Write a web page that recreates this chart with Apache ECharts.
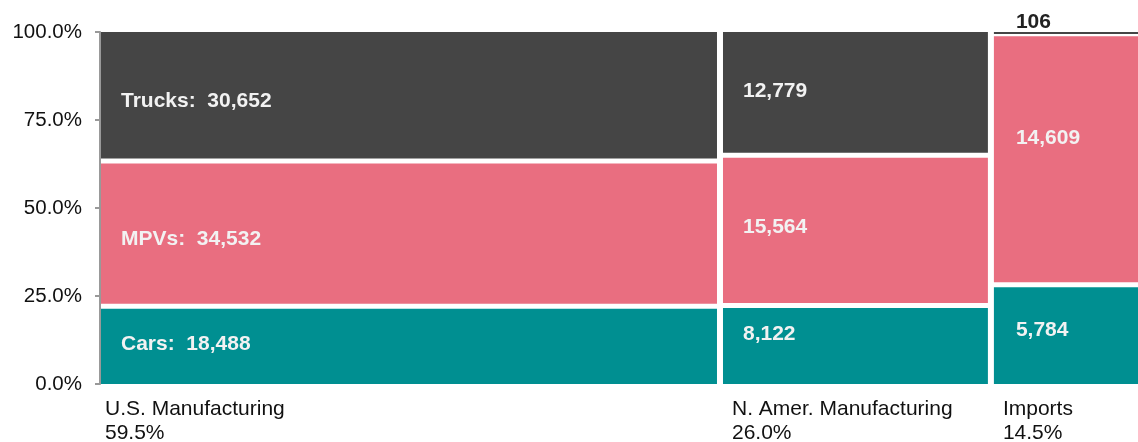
<!DOCTYPE html>
<html><head><meta charset="utf-8">
<script src="https://cdn.jsdelivr.net/npm/echarts@6/dist/echarts.min.js"></script>
<style>html,body{margin:0;padding:0;background:#fff}#c{width:1138px;height:442px}</style>
</head><body><div id="c"></div>
<script>
const columns = ['U.S. Manufacturing', 'N. Amer. Manufacturing', 'Imports'];
const shares = [59.5, 26.0, 14.5];
const segments = ['Cars', 'MPVs', 'Trucks'];
const cars = [18488, 8122, 5784];
const mpvs = [34532, 15564, 14609];
const trucks = [30652, 12779, 106];
const yTicks = ['0.0%', '25.0%', '50.0%', '75.0%', '100.0%'];
const colors = ['#008F91', '#E96E80', '#454545'];

const series3 = [cars, mpvs, trucks];
const totals = columns.map((c, i) => cars[i] + mpvs[i] + trucks[i]);
const fmt = v => v.toLocaleString('en-US');
const FONT = 'Liberation Sans, Arial, sans-serif';

// rect data: [x0, x1, y0, y1, value, colIdx, segIdx]
const rects = [];
const colData = [];
let xc = 0;
columns.forEach((c, i) => {
  const w = shares[i];
  let yc = 0;
  series3.forEach((s, k) => {
    const h = s[i] / totals[i] * 100;
    rects.push([xc, xc + w, yc, yc + h, s[i], i, k]);
    yc += h;
  });
  colData.push([xc, xc + w, i, w]);
  xc += w;
});

// label nudges (px) per column, per segment [cars, mpvs, trucks]
const labelDx = [20, 20, 22];
const labelDy = [[-2.5, 6, 6], [-11.5, -3.5, -1], [-5, -21, 0]];
const catDx = [5, 12, 12];

const chart = echarts.init(document.getElementById('c'));
chart.setOption({
  animation: false,
  grid: {left: 100, width: 1042, top: 32, height: 352, outerBoundsMode: 'none', containLabel: false},
  xAxis: {type: 'value', min: 0, max: 100, show: false},
  yAxis: {
    type: 'value', min: 0, max: 100, interval: 25,
    axisLine: {show: true, lineStyle: {color: '#999', width: 2}},
    axisTick: {show: true, length: 5, lineStyle: {color: '#999', width: 2}},
    splitLine: {show: false},
    axisLabel: {formatter: v => yTicks[v / 25], color: '#111', fontSize: 20.5, fontFamily: FONT, margin: 18}
  },
  series: [{
    type: 'custom',
    data: rects,
    clip: false,
    renderItem: (params, api) => {
      const x0 = api.value(0), x1 = api.value(1), y0 = api.value(2), y1 = api.value(3);
      const val = api.value(4), ci = api.value(5), si = api.value(6);
      const p0 = api.coord([x0, y0]), p1 = api.coord([x1, y1]);
      const left = p0[0] + (ci === 0 ? 1 : 3);
      const right = p1[0] - 3;
      const small = (p0[1] - p1[1]) < 20;
      let bottom = p0[1] - (si === 0 ? 0 : 2.5);
      let top = p1[1] + (si === segments.length - 1 ? 0 : 2.5);
      if (small) { top = p1[1]; bottom = top + 2; }
      const children = [{
        type: 'rect',
        shape: {x: left, y: top, width: right - left, height: bottom - top},
        style: {fill: colors[si]}
      }];
      const txt = (ci === 0 ? segments[si] + ':  ' : '') + fmt(val);
      children.push({
        type: 'text',
        style: {
          text: txt,
          x: left + labelDx[ci],
          y: small ? top - 10 : (top + bottom) / 2 + labelDy[ci][si],
          verticalAlign: 'middle',
          fill: small ? '#222' : '#F2F2F2',
          font: 'bold 21px ' + FONT
        }
      });
      return {type: 'group', children};
    }
  }, {
    type: 'custom',
    data: colData,
    clip: false,
    renderItem: (params, api) => {
      const x0 = api.value(0), ci = api.value(2), w = api.value(3);
      const p = api.coord([x0, 0]);
      return {
        type: 'text',
        style: {
          text: columns[ci] + '\n' + w.toFixed(1) + '%',
          x: p[0] + catDx[ci],
          y: p[1] + 13,
          verticalAlign: 'top',
          fill: '#111',
          font: '21px ' + FONT,
          lineHeight: 24
        }
      };
    }
  }]
});
</script></body></html>
